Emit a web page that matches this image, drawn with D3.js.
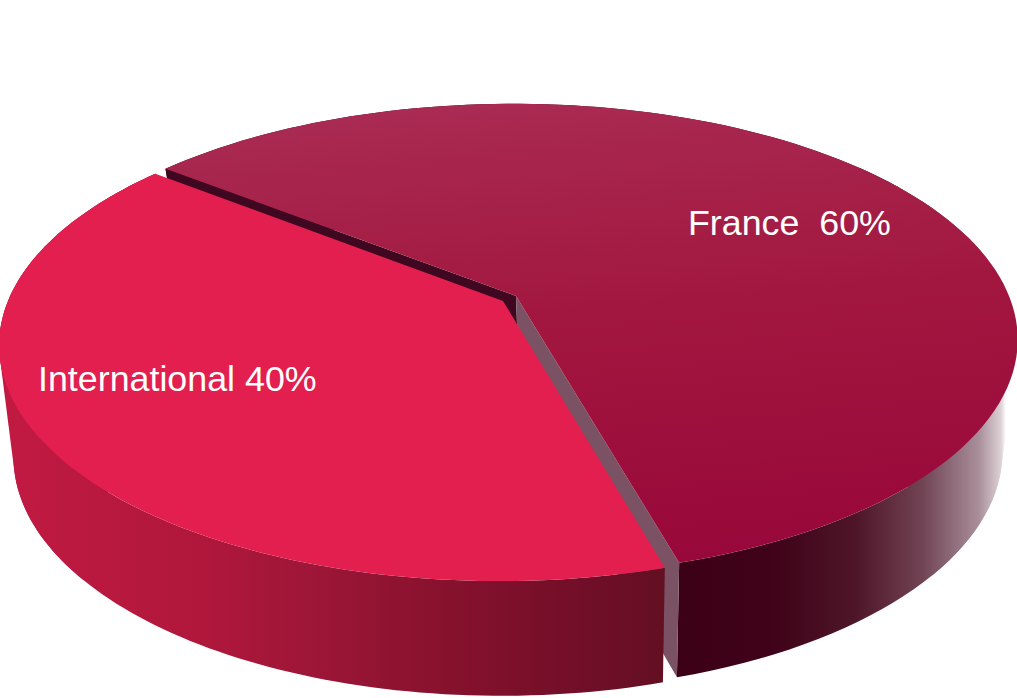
<!DOCTYPE html>
<html><head><meta charset="utf-8">
<script src="https://cdn.jsdelivr.net/npm/d3@7"></script>
<style>html,body{margin:0;padding:0;background:#fff;overflow:hidden}svg{display:block}
text{font-family:"Liberation Sans",Arial,sans-serif;fill:#fff;white-space:pre}</style>
</head><body><svg id="c" width="1017" height="698"></svg>
<script>
const categories = ["France", "International"];
const shares = [60, 40];
const labels = ["France  60%", "International 40%"];

const svg = d3.select("#c");
const defs = svg.append("defs");
function grad(id, x1, y1, x2, y2, stops){
  const g = defs.append("linearGradient").attr("id", id).attr("gradientUnits","userSpaceOnUse")
    .attr("x1",x1).attr("y1",y1).attr("x2",x2).attr("y2",y2);
  stops.forEach(s => g.append("stop").attr("offset", s[0]).attr("stop-color", s[1]));
}
grad("topF", 560,100,600,565, [[0,"#a92a52"],[0.45,"#a2173f"],[1,"#98083a"]]);
grad("sideF", 670,0,1006,0, [[0,"#3c0016"],[0.3,"#3f0218"],[0.55,"#4e1528"],[0.75,"#704353"],[0.92,"#a98f9a"],[0.985,"#ddd2d6"],[1,"#ffffff"]]);
grad("sideI", 5,0,665,0, [[0,"#c11a42"],[0.3,"#b0173b"],[0.45,"#9f1638"],[0.68,"#85112d"],[0.9,"#6f0e27"],[1,"#630f22"]]);

// Perspective view of a tilted disc (u right, v towards the viewer)
const k = 0.186, m = 0.006;
const views = [
  {top:{ax:516, ay:296, sx:496, sy:228}, bot:{ax:520, ay:407, sx:477, sy:231}, off:[0,0]},
  {top:{ax:516, ay:296, sx:492, sy:228}, bot:{ax:518, ay:407, sx:480, sy:231}, off:[-13,5]}
];
function project(view, ang, r, off){
  const u = r*Math.sin(ang), v = -r*Math.cos(ang);
  const w = 1 - k*v + m*u;
  return [view.ax + off[0] + view.sx*u/w, view.ay + off[1] + view.sy*v/w];
}
const rot = -51.7*Math.PI/180;
const pie = d3.pie().sort(null).startAngle(rot).endAngle(rot+2*Math.PI);
const arcs = pie(shares);
const line = d3.line();
const outer = (view, a, off) => d3.range(0,121).map(i => project(view, a.startAngle+(a.endAngle-a.startAngle)*i/120, 1, off));

const g = svg.append("g");
function drawSide(a, v, fill){
  const t = outer(v.top,a,v.off), b = outer(v.bot,a,v.off);
  g.append("path").attr("d", line(t.concat(b.slice().reverse()))+"Z").attr("fill",fill);
  // silhouette: the wall runs straight from top rim to bottom rim where the rim turns away
  const mid = a.startAngle < Math.PI/2 && a.endAngle > Math.PI/2 ? Math.PI/2 : 3*Math.PI/2;
  const near = d => Math.abs(a.startAngle+(a.endAngle-a.startAngle)*d/120 - mid) < 0.7;
  const keep = d3.range(0,121).filter(near);
  const hull = d3.polygonHull(keep.map(i=>t[i]).concat(keep.map(i=>b[i])));
  g.append("path").attr("d", line(hull)+"Z").attr("fill",fill);
}
function drawCut(ang, v, fill){
  const pts=[project(v.top,0,0,v.off),project(v.top,ang,1,v.off),project(v.bot,ang,1,v.off),project(v.bot,0,0,v.off)];
  g.append("path").attr("d", line(pts)+"Z").attr("fill",fill);
}
function drawTop(a, v, fill){
  const p=[project(v.top,0,0,v.off)].concat(outer(v.top,a,v.off));
  g.append("path").attr("d", line(p)+"Z").attr("fill",fill);
}
drawSide(arcs[0], views[0], "url(#sideF)");
drawCut(arcs[0].startAngle, views[0], "#3f0820");
drawCut(arcs[0].endAngle, views[0], "#7a5263");
drawTop(arcs[0], views[0], "url(#topF)");
drawSide(arcs[1], views[1], "url(#sideI)");
drawTop(arcs[1], views[1], "#e21f4e");

svg.selectAll("text.lab").data(labels).join("text").attr("class","lab")
  .attr("x",(d,i)=>[688,38][i]).attr("y",(d,i)=>[235,391][i])
  .attr("font-size",35.8).text(d=>d);
</script></body></html>
